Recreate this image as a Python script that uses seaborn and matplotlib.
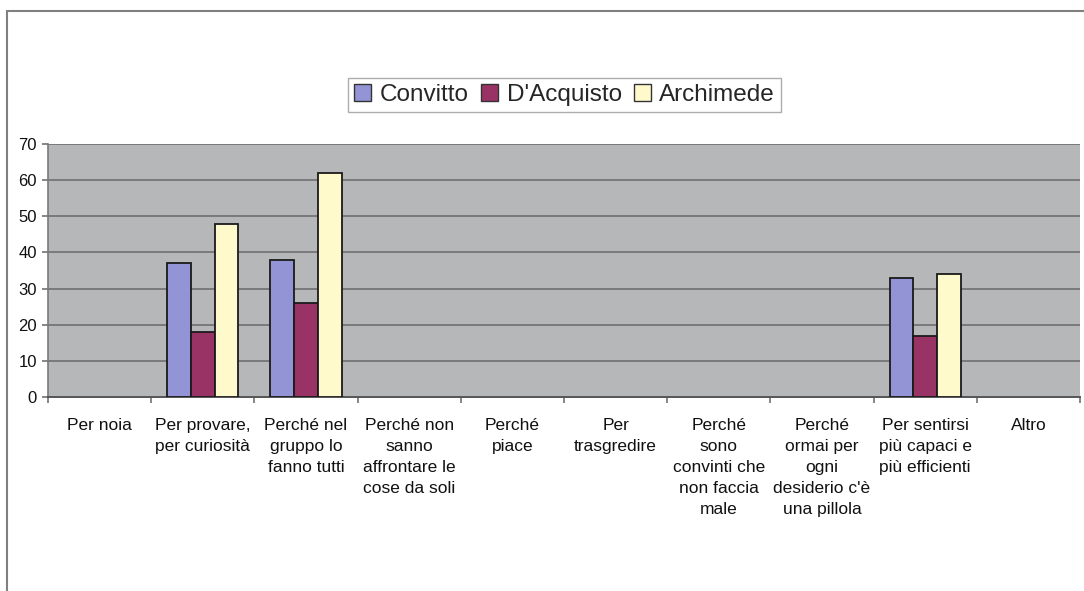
import matplotlib
matplotlib.use("Agg")
import matplotlib.pyplot as plt
from matplotlib.patches import Rectangle, Patch
import seaborn as sns
import pandas as pd

categories = [
    "Per noia",
    "Per provare,\nper curiosità",
    "Perché nel\ngruppo lo\nfanno tutti",
    "Perché non\nsanno\naffrontare le\ncose da soli",
    "Perché\npiace",
    "Per\ntrasgredire",
    "Perché\nsono\nconvinti che\nnon faccia\nmale",
    "Perché\normai per\nogni\ndesiderio c'è\nuna pillola",
    "Per sentirsi\npiù capaci e\npiù efficienti",
    "Altro",
]
series_names = ["Convitto", "D'Acquisto", "Archimede"]
convitto = [0, 37, 38, 0, 0, 0, 0, 0, 33, 0]
dacquisto = [0, 18, 26, 0, 0, 0, 0, 0, 17, 0]
archimede = [0, 48, 62, 0, 0, 0, 0, 0, 34, 0]
y_ticks = [0, 10, 20, 30, 40, 50, 60, 70]

colors = ["#9294D6", "#993366", "#FFFACC"]

rows = []
for name, vals in zip(series_names, [convitto, dacquisto, archimede]):
    for cat, v in zip(categories, vals):
        rows.append({"cat": cat, "serie": name, "val": v})
df = pd.DataFrame(rows)

sns.set_theme(style="white")
plt.rcParams["font.family"] = ["Liberation Sans", "DejaVu Sans"]

fig = plt.figure(figsize=(10.84, 5.91), dpi=100)
ax = fig.add_axes([0.0443, 0.3283, 0.9520, 0.4280])
ax.set_facecolor("#B5B7B9")

sns.barplot(data=df, x="cat", y="val", hue="serie", order=categories,
            hue_order=series_names, palette=colors, width=0.69,
            edgecolor="#1a1a1a", linewidth=1.3, saturation=1,
            errorbar=None, ax=ax, zorder=3, legend=False)

# empty categories carry no visible bar
for p in ax.patches:
    if p.get_height() == 0:
        p.set_visible(False)

ax.set_ylim(0, 70)
ax.set_xlim(-0.5, len(categories) - 0.5)
ax.set_yticks(y_ticks)
ax.set_yticklabels([str(t) for t in y_ticks], fontsize=12, color="#111111")
for t in y_ticks[1:]:
    ax.axhline(t, color="#7a7a7a", linewidth=1.4, zorder=1)

ax.set_xticks([i - 0.5 for i in range(len(categories) + 1)], minor=False)
ax.set_xticklabels([])
ax.set_xticks(range(len(categories)), minor=True)
ax.set_xticklabels(categories, minor=True, fontsize=12.5, color="#111111",
                   linespacing=1.5, va="top")
ax.tick_params(axis="x", which="minor", length=0, pad=15)
ax.tick_params(axis="x", which="major", length=4, color="#777777", direction="out", bottom=True)
ax.tick_params(axis="y", length=4, color="#777777", direction="out", left=True, pad=4)
ax.set_xlabel("")
ax.set_ylabel("")

for side in ["top", "right"]:
    ax.spines[side].set_visible(False)
ax.spines["left"].set_color("#7a7a7a")
ax.spines["bottom"].set_color("#555555")
ax.spines["left"].set_linewidth(1.2)
ax.spines["bottom"].set_linewidth(1.4)

handles = [Patch(facecolor=c, edgecolor="#333333", linewidth=1.0) for c in colors]
leg = fig.legend(handles, series_names, loc="center", bbox_to_anchor=(0.521, 0.839),
                 ncol=3, fontsize=17.5, frameon=True, fancybox=False,
                 edgecolor="#999999", handlelength=0.7, handleheight=0.7,
                 handletextpad=0.35, columnspacing=0.5, borderpad=0.25)
leg.get_frame().set_linewidth(1.0)

# outer chart border
fig.patches.append(Rectangle((7 / 1084, -0.05), 1.1, 1 - 11 / 591 + 0.05,
                             transform=fig.transFigure, fill=False,
                             edgecolor="#808080", linewidth=1.5))

fig.savefig("out.png", dpi=100)
